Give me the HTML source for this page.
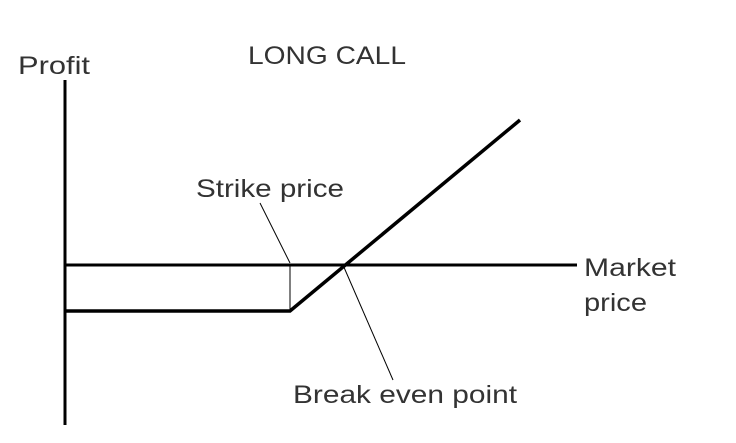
<!DOCTYPE html>
<html><head><style>body{margin:0;background:#fff}</style></head><body>
<svg width="736" height="438" xmlns="http://www.w3.org/2000/svg" font-family="Liberation Sans, sans-serif" fill="#333">
<line x1="65" y1="80" x2="65" y2="425" stroke="#000" stroke-width="3"/>
<line x1="65" y1="265" x2="577" y2="265" stroke="#000" stroke-width="3"/>
<polyline points="65,311 290,311 520,120" fill="none" stroke="#000" stroke-width="3.5"/>
<line x1="290" y1="265" x2="290" y2="311" stroke="#000" stroke-width="1"/>
<line x1="260" y1="203" x2="290" y2="263" stroke="#000" stroke-width="1"/>
<line x1="343" y1="265" x2="393" y2="380" stroke="#000" stroke-width="1"/>
<text x="18" y="74" font-size="25" textLength="72" lengthAdjust="spacingAndGlyphs">Profit</text>
<text x="248" y="64" font-size="25" textLength="158" lengthAdjust="spacingAndGlyphs">LONG CALL</text>
<text x="196" y="197" font-size="25" textLength="148" lengthAdjust="spacingAndGlyphs">Strike price</text>
<text x="584" y="276" font-size="25" textLength="92" lengthAdjust="spacingAndGlyphs">Market</text>
<text x="584" y="311" font-size="25" textLength="63" lengthAdjust="spacingAndGlyphs">price</text>
<text x="293" y="403" font-size="25" textLength="224" lengthAdjust="spacingAndGlyphs">Break even point</text>
</svg>
</body></html>
